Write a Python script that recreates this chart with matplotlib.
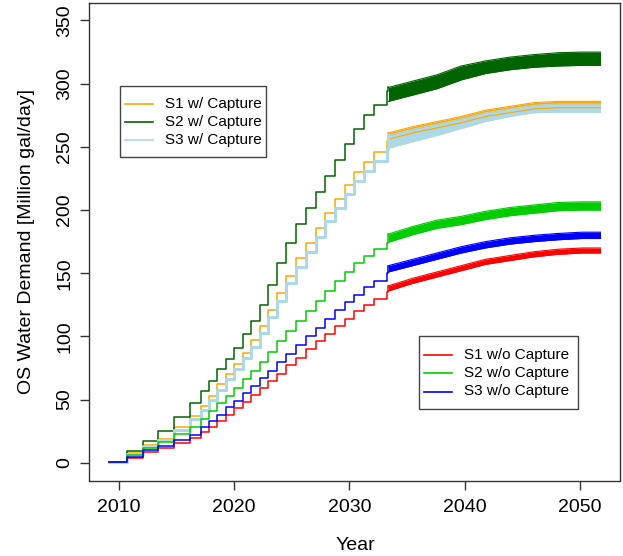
"""OS water demand scenarios, with and without capture."""

import matplotlib.pyplot as plt
from matplotlib.lines import Line2D
from matplotlib.patches import Rectangle

# Stepped part of each curve: level held from each step year to the next.
step_years = [2009.13, 2010.66, 2012.08, 2013.39, 2014.81, 2016.13, 2017.08, 2017.81, 2018.55,
              2019.29, 2020.02, 2020.76, 2021.50, 2022.23, 2022.97, 2023.70, 2024.54, 2025.39,
              2026.23, 2027.07, 2027.91, 2028.76, 2029.60, 2030.44, 2031.28, 2032.12, 2033.28]
s1_cap_steps = [1, 7.7, 14, 19, 28, 37, 45, 53, 62, 70, 78, 87, 97, 108, 121, 134, 148, 162,
                174, 186, 198, 209, 220, 230, 238, 246, 255]
s2_cap_steps = [1, 9, 17, 25, 36, 47, 57, 65, 74, 82, 91, 102, 112, 125, 141, 158, 174, 189,
                202, 214, 227, 240, 252, 264, 275, 283, 294]
s3_cap_steps = [1, 7, 13, 18, 26, 35, 42, 50, 58, 66, 74, 83, 92, 103, 115, 128, 142, 155,
                167, 179, 191, 202, 213, 223, 231, 239, 248]
s1_nocap_steps = [1, 4, 8.7, 11.6, 15.4, 19.3, 24, 28, 33, 38, 43, 48, 54, 59, 65, 70, 77, 83,
                  90, 96, 102, 108, 114, 120, 125, 130, 135]
s2_nocap_steps = [1, 6, 11.6, 16.7, 23, 28.5, 35, 41, 47, 53, 59, 66, 73, 80, 88, 96, 104, 112,
                  120, 128, 136, 144, 151, 158, 164, 169, 174]
s3_nocap_steps = [1, 4.8, 10, 13.2, 18, 22, 28, 33, 38, 44, 49, 55, 61, 67, 73, 80, 86, 93,
                  100, 107, 114, 121, 127, 133, 139, 144, 150]

# Dense seasonal band after the 2033 jump: upper and lower edges.
band_years = [2033.39, 2035.50, 2037.60, 2039.71, 2041.81, 2043.92, 2046.02, 2048.13,
              2050.23, 2051.81]
s1_cap_hi = [261, 266, 270, 274, 279, 282, 285, 286, 286, 286]
s1_cap_lo = [256, 261, 265, 269, 274, 277, 280, 281, 281, 281]
s2_cap_hi = [297, 302, 307, 314, 318, 321, 323, 324.5, 325, 325]
s2_cap_lo = [286, 291, 296, 303, 308, 311, 313, 314, 314.5, 314.5]
s3_cap_hi = [259, 264, 268, 272, 277, 280, 283, 284, 284, 284]
s3_cap_lo = [249, 254, 259, 264.5, 270, 274, 277, 277.5, 277.5, 277.5]
s1_nocap_hi = [140, 146, 151, 156, 161, 164, 167, 169, 170, 170]
s1_nocap_lo = [136, 142, 147, 152, 157, 160, 163, 165, 166, 166]
s2_nocap_hi = [181, 187, 192, 195, 199, 202, 204, 206, 206.5, 206.5]
s2_nocap_lo = [174.5, 180.5, 185.5, 188.5, 192.5, 195.5, 197.5, 199.5, 200, 200]
s3_nocap_hi = [156, 161, 166, 171, 175, 178, 180, 181.5, 182.5, 182.5]
s3_nocap_lo = [151, 156, 161, 166, 170, 173, 175, 176.5, 177.5, 177.5]

cap_labels = ["S1 w/ Capture", "S2 w/ Capture", "S3 w/ Capture"]
nocap_labels = ["S1 w/o Capture", "S2 w/o Capture", "S3 w/o Capture"]
cap_colors = ["#FFA500", "#006400", "#ADD8E6"]
nocap_colors = ["#FF0000", "#00CD00", "#0000FF"]

# Axes box in pixels of the 623x556 picture.
BOX_L, BOX_R, BOX_T, BOX_B = 89.3, 620.0, 2.8, 480.5
W, H = 623, 556


def to_ax(px, py):
    """Picture pixel -> axes fraction."""
    return (px - BOX_L) / (BOX_R - BOX_L), (BOX_B - py) / (BOX_B - BOX_T)


def draw_series(ax, steps, hi, lo, color, lw=1.1):
    ax.step(step_years + [band_years[0]], steps + [hi[0]], where="post", color=color, lw=lw)
    ax.fill_between(band_years, lo, hi, color=color, lw=0)
    ax.plot(band_years, hi, color=color, lw=0.8)
    ax.plot(band_years, lo, color=color, lw=0.8)


def draw_legend(ax, box, rows_y, labels, colors):
    x0, y0, x1, y1 = box
    ax0, ay1 = to_ax(x0, y1)
    ax1, ay0 = to_ax(x1, y0)
    ax.add_patch(Rectangle((ax0, ay1), ax1 - ax0, ay0 - ay1, transform=ax.transAxes,
                           fill=True, facecolor="white", edgecolor="#444444", lw=1, zorder=5))
    for y, lab, c in zip(rows_y, labels, colors):
        lx0, ly = to_ax(x0 + 5, y)
        lx1, _ = to_ax(x0 + 33, y)
        tx, _ = to_ax(x0 + 45, y)
        ax.add_line(Line2D([lx0, lx1], [ly, ly], transform=ax.transAxes, color=c, lw=1.2,
                           zorder=6))
        ax.text(tx, ly, lab, transform=ax.transAxes, fontsize=11, va="center", ha="left",
                zorder=6)


def main():
    plt.rcParams["font.family"] = ["Liberation Sans", "DejaVu Sans"]
    fig = plt.figure(figsize=(W / 100, H / 100), dpi=100)
    ax = fig.add_axes([BOX_L / W, 1 - BOX_B / H, (BOX_R - BOX_L) / W, (BOX_B - BOX_T) / H])

    draw_series(ax, s1_cap_steps, s1_cap_hi, s1_cap_lo, cap_colors[0])
    draw_series(ax, s2_cap_steps, s2_cap_hi, s2_cap_lo, cap_colors[1])
    draw_series(ax, s3_cap_steps, s3_cap_hi, s3_cap_lo, cap_colors[2], lw=2.2)
    draw_series(ax, s1_nocap_steps, s1_nocap_hi, s1_nocap_lo, nocap_colors[0])
    draw_series(ax, s2_nocap_steps, s2_nocap_hi, s2_nocap_lo, nocap_colors[1])
    draw_series(ax, s3_nocap_steps, s3_nocap_hi, s3_nocap_lo, nocap_colors[2])

    ax.set_xlim(2007.42, 2053.5)
    ax.set_ylim(-14, 364)
    ax.set_xticks([2010, 2020, 2030, 2040, 2050])
    ax.set_yticks(range(0, 351, 50))
    for s in ax.spines.values():
        s.set_color("#333333")
        s.set_linewidth(1)
    ax.tick_params(direction="out", length=6.5, width=1, color="#333333", labelsize=14)
    ax.tick_params(axis="x", pad=7)
    ax.tick_params(axis="y", pad=5)
    for lab in ax.get_yticklabels():
        lab.set_rotation(90)
        lab.set_va("center")

    ax.set_xlabel("Year", fontsize=14)
    ax.set_ylabel("OS Water Demand [Million gal/day]", fontsize=14)
    ax.xaxis.set_label_coords(*to_ax(355, 546))
    ax.xaxis.label.set_va("center")
    ax.yaxis.set_label_coords(*to_ax(26.6, 241.6))
    ax.yaxis.label.set_va("center")

    draw_legend(ax, (120, 86, 266, 157), [104, 122, 140], cap_labels, cap_colors)
    draw_legend(ax, (419, 336, 578, 409), [355, 373, 391.5], nocap_labels, nocap_colors)

    fig.savefig("out.png", dpi=100)
    plt.close(fig)


if __name__ == "__main__":
    main()
